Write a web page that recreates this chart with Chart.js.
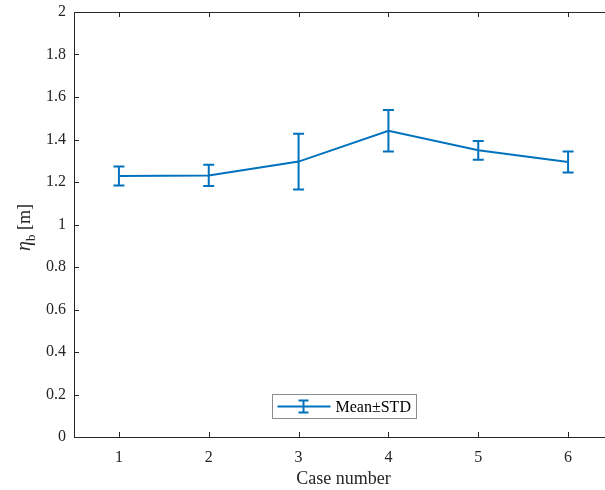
<!DOCTYPE html>
<html>
<head>
<meta charset="utf-8">
<script src="https://cdn.jsdelivr.net/npm/chart.js@4.4.1/dist/chart.umd.min.js"></script>
<style>
  html, body { margin: 0; padding: 0; background: #fff; overflow: hidden; }
  #wrap { width: 620px; height: 490px; }
</style>
</head>
<body>
<div id="wrap"><canvas id="chart" width="620" height="490"></canvas></div>
<script>
// data
const caseNumbers = [1, 2, 3, 4, 5, 6];
const meanValues = [1.228, 1.231, 1.296, 1.441, 1.349, 1.294];
const stdValues = [0.045, 0.050, 0.131, 0.098, 0.044, 0.049];
const legendLabel = "Mean±STD";

const lineColor = "#0072BD";
const axisColor = "#262626";
const serif = "'Liberation Serif', 'Times New Roman', serif";

// error bars, axes box with inward ticks, y title and legend
const matlabLook = {
  id: "matlabLook",
  afterDatasetsDraw(chart) {
    const ctx = chart.ctx;
    const x = chart.scales.x, y = chart.scales.y;
    const area = chart.chartArea;

    // error bars
    ctx.save();
    ctx.strokeStyle = lineColor;
    ctx.lineWidth = 2;
    caseNumbers.forEach((c, i) => {
      const px = x.getPixelForValue(c);
      const top = y.getPixelForValue(meanValues[i] + stdValues[i]);
      const bot = y.getPixelForValue(meanValues[i] - stdValues[i]);
      ctx.beginPath();
      ctx.moveTo(px, top); ctx.lineTo(px, bot);
      ctx.moveTo(px - 5.5, top); ctx.lineTo(px + 5.5, top);
      ctx.moveTo(px - 5.5, bot); ctx.lineTo(px + 5.5, bot);
      ctx.stroke();
    });
    ctx.restore();

    // axes box
    ctx.save();
    ctx.strokeStyle = axisColor;
    ctx.lineWidth = 1;
    ctx.beginPath();
    ctx.rect(Math.round(area.left) + 0.5, Math.round(area.top) + 0.5,
      Math.round(area.right - area.left), Math.round(area.bottom - area.top));
    ctx.stroke();

    ctx.beginPath();
    x.ticks.forEach(t => {
      const px = Math.round(x.getPixelForValue(t.value)) + 0.5;
      ctx.moveTo(px, area.bottom); ctx.lineTo(px, area.bottom - 5);
      ctx.moveTo(px, area.top); ctx.lineTo(px, area.top + 5);
    });
    y.ticks.forEach(t => {
      const py = Math.round(y.getPixelForValue(t.value)) + 0.5;
      ctx.moveTo(area.left, py); ctx.lineTo(area.left + 5, py);
      ctx.moveTo(area.right, py); ctx.lineTo(area.right - 5, py);
    });
    ctx.stroke();
    ctx.restore();

    // y axis title: eta_b [m]
    ctx.save();
    ctx.translate(30, (area.top + area.bottom) / 2 + 3);
    ctx.rotate(-Math.PI / 2);
    ctx.fillStyle = axisColor;
    ctx.textBaseline = "alphabetic";
    const f1 = "italic 20px " + serif, f2 = "13px " + serif, f3 = "18px " + serif;
    ctx.font = f1; const w1 = ctx.measureText("η").width;
    ctx.font = f2; const w2 = ctx.measureText("b").width;
    ctx.font = f3; const w3 = ctx.measureText(" [m]").width;
    let sx = -(w1 + w2 + w3) / 2;
    ctx.font = f1; ctx.fillText("η", sx, 0); sx += w1;
    ctx.font = f2; ctx.fillText("b", sx, 5); sx += w2;
    ctx.font = f3; ctx.fillText(" [m]", sx, 0);
    ctx.restore();

    // legend box
    ctx.save();
    const bw = 144, bh = 24;
    const bx = Math.round((area.left + area.right) / 2 - bw / 2) + 0.5;
    const by = Math.round(area.bottom - 43) + 0.5;
    ctx.fillStyle = "#fff";
    ctx.fillRect(bx, by, bw, bh);
    ctx.strokeStyle = "#8c8c8c";
    ctx.lineWidth = 1;
    ctx.strokeRect(bx, by, bw, bh);
    const ly = by + bh / 2;
    ctx.strokeStyle = lineColor;
    ctx.lineWidth = 2;
    ctx.beginPath();
    ctx.moveTo(bx + 5, ly); ctx.lineTo(bx + 58, ly);
    const cx = bx + 31;
    ctx.moveTo(cx, ly - 6); ctx.lineTo(cx, ly + 6);
    ctx.moveTo(cx - 5, ly - 6); ctx.lineTo(cx + 5, ly - 6);
    ctx.moveTo(cx - 5, ly + 6); ctx.lineTo(cx + 5, ly + 6);
    ctx.stroke();
    ctx.fillStyle = "#000";
    ctx.font = "16px " + serif;
    ctx.textBaseline = "middle";
    ctx.fillText(legendLabel, bx + 63, ly + 1);
    ctx.restore();
  }
};

new Chart(document.getElementById("chart"), {
  type: "line",
  data: {
    datasets: [{
      label: legendLabel,
      data: caseNumbers.map((c, i) => ({ x: c, y: meanValues[i] })),
      borderColor: lineColor,
      borderWidth: 2,
      pointRadius: 0,
      tension: 0
    }]
  },
  options: {
    responsive: false,
    animation: false,
    layout: { padding: { top: 12, right: 7, left: 0, bottom: 0 } },
    plugins: {
      legend: { display: false },
      tooltip: { enabled: false }
    },
    scales: {
      x: {
        type: "linear",
        min: 0.5,
        max: 6.5,
        afterBuildTicks: scale => { scale.ticks = caseNumbers.map(v => ({ value: v })); },
        afterFit: scale => { scale.height = 53; scale.paddingLeft = 0; scale.paddingRight = 0; },
        grid: { display: false, drawTicks: false, tickLength: 0 },
        border: { display: false },
        ticks: {
          color: axisColor,
          font: { family: serif, size: 16 },
          padding: 11,
          maxRotation: 0
        },
        title: {
          display: true,
          text: "Case number",
          color: axisColor,
          font: { family: serif, size: 18 },
          padding: { top: 0, bottom: 0 }
        }
      },
      y: {
        min: 0,
        max: 2,
        afterFit: scale => { scale.width = 74; scale.paddingTop = 0; scale.paddingBottom = 0; },
        grid: { display: false, drawTicks: false, tickLength: 0 },
        border: { display: false },
        ticks: {
          stepSize: 0.2,
          color: axisColor,
          font: { family: serif, size: 16 },
          padding: 8,
          callback: v => String(Math.round(v * 10) / 10)
        }
      }
    }
  },
  plugins: [matlabLook]
});
</script>
</body>
</html>
